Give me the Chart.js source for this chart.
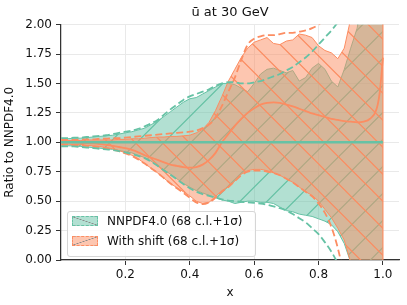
<!DOCTYPE html>
<html>
<head>
<meta charset="utf-8">
<title>ubar at 30 GeV</title>
<script src="https://cdn.jsdelivr.net/npm/chart.js@4.4.1/dist/chart.umd.min.js"></script>
<style>
    html, body { margin: 0; padding: 0; background: #fff; }
    #wrap { position: relative; width: 407px; height: 305px; }
    #chart { position: absolute; left: 0; top: 0; }
    #legend {
        position: absolute; left: 67px; top: 211px; width: 187px; height: 44px;
        border: 1px solid #d6d6d6; border-radius: 3px; background: rgba(255, 255, 255, 0.8);
        font-family: 'DejaVu Sans', sans-serif; font-size: 12px; color: #111;
    }
    .patch { position: absolute; left: 4px; width: 24px; height: 8px; }
    .label { position: absolute; left: 39px; line-height: 14px; white-space: nowrap; }
</style>
</head>
<body>
<div id="wrap">
    <canvas id="chart" width="407" height="305"></canvas>
    <div id="legend">
        <div class="patch" id="patchGreen" style="top: 4px;"></div>
        <div class="label" style="top: 2px;">NNPDF4.0 (68 c.l.+1σ)</div>
        <div class="patch" id="patchOrange" style="top: 24px;"></div>
        <div class="label" style="top: 22px;">With shift (68 c.l.+1σ)</div>
    </div>
</div>
<script>
// x grid shared by every series
const xs = [0.00, 0.02, 0.04, 0.06, 0.08, 0.10, 0.12, 0.14, 0.16, 0.18,
            0.20, 0.22, 0.24, 0.26, 0.28, 0.30, 0.32, 0.34, 0.36, 0.38,
            0.40, 0.42, 0.44, 0.46, 0.48, 0.50, 0.52, 0.54, 0.56, 0.58,
            0.60, 0.62, 0.64, 0.66, 0.68, 0.70, 0.72, 0.74, 0.76, 0.78,
            0.80, 0.82, 0.84, 0.86, 0.88, 0.90, 0.92, 0.94, 0.96, 0.98,
            0.99, 1.00];

// NNPDF4.0: central, 68 c.l. band, 1 sigma band
const nnpdfMid = xs.map(() => 1.0);
const nnpdfUp = [1.03, 1.03, 1.035, 1.035, 1.04, 1.045, 1.05, 1.055, 1.06, 1.07,
                 1.08, 1.09, 1.105, 1.12, 1.15, 1.18, 1.22, 1.26, 1.30, 1.34,
                 1.37, 1.38, 1.41, 1.44, 1.47, 1.50, 1.50, 1.49, 1.46, 1.43,
                 1.50, 1.58, 1.62, 1.63, 1.61, 1.59, 1.61, 1.52, 1.55, 1.63,
                 1.67, 1.62, 1.52, 1.47, 1.62, 1.80, 1.97, 2.3, 2.8, 3.2,
                 3.4, 3.6];
const nnpdfLo = [0.97, 0.97, 0.97, 0.965, 0.96, 0.955, 0.95, 0.945, 0.94, 0.93,
                 0.92, 0.91, 0.89, 0.87, 0.84, 0.80, 0.765, 0.73, 0.69, 0.65,
                 0.62, 0.59, 0.57, 0.55, 0.53, 0.51, 0.50, 0.48, 0.49, 0.50,
                 0.50, 0.49, 0.49, 0.48, 0.45, 0.42, 0.41, 0.39, 0.38, 0.37,
                 0.35, 0.33, 0.30, 0.24, 0.14, -0.02, -0.3, -0.6, -0.9, -1.2,
                 -1.4, -1.6];
const nnpdfSigUp = [1.035, 1.035, 1.04, 1.04, 1.045, 1.05, 1.055, 1.06, 1.07, 1.08,
                    1.09, 1.10, 1.115, 1.135, 1.16, 1.19, 1.235, 1.28, 1.32, 1.36,
                    1.39, 1.41, 1.43, 1.45, 1.48, 1.50, 1.51, 1.51, 1.50, 1.50,
                    1.51, 1.52, 1.54, 1.56, 1.58, 1.61, 1.64, 1.68, 1.72, 1.77,
                    1.83, 1.89, 1.95, 2.02, 2.10, 2.2, 2.35, 2.5, 2.7, 2.95,
                    3.1, 3.3];
const nnpdfSigLo = [0.965, 0.965, 0.965, 0.96, 0.955, 0.95, 0.945, 0.94, 0.935, 0.925,
                    0.915, 0.90, 0.885, 0.865, 0.835, 0.80, 0.76, 0.725, 0.685, 0.645,
                    0.61, 0.58, 0.56, 0.545, 0.53, 0.515, 0.505, 0.50, 0.495, 0.49,
                    0.485, 0.48, 0.47, 0.455, 0.44, 0.42, 0.39, 0.355, 0.32, 0.27,
                    0.22, 0.15, 0.07, -0.03, -0.15, -0.3, -0.5, -0.7, -0.9, -1.1,
                    -1.2, -1.3];

// With shift: central, 68 c.l. band, 1 sigma band
const shiftMid = [1.0, 1.0, 0.998, 0.996, 0.993, 0.99, 0.985, 0.978, 0.97, 0.96,
                  0.95, 0.935, 0.915, 0.89, 0.87, 0.85, 0.83, 0.81, 0.80, 0.79,
                  0.785, 0.79, 0.81, 0.85, 0.91, 1.00, 1.07, 1.14, 1.20, 1.25,
                  1.29, 1.32, 1.335, 1.34, 1.335, 1.32, 1.305, 1.285, 1.265, 1.245,
                  1.23, 1.215, 1.20, 1.19, 1.18, 1.175, 1.17, 1.175, 1.20, 1.28,
                  1.42, 1.72];
const shiftUp = [1.015, 1.015, 1.015, 1.015, 1.02, 1.02, 1.02, 1.02, 1.02, 1.025,
                 1.025, 1.03, 1.03, 1.035, 1.04, 1.045, 1.045, 1.05, 1.05, 1.055,
                 1.06, 1.08, 1.11, 1.17, 1.27, 1.39, 1.52, 1.62, 1.72, 1.80,
                 1.85, 1.87, 1.89, 1.84, 1.83, 1.86, 1.87, 1.92, 1.91, 1.89,
                 1.82, 1.78, 1.76, 1.71, 1.80, 2.05, 2.4, 2.7, 3.0, 3.3,
                 3.5, 3.7];
const shiftLo = [0.985, 0.985, 0.98, 0.98, 0.975, 0.97, 0.965, 0.955, 0.945, 0.93,
                 0.91, 0.89, 0.86, 0.82, 0.78, 0.74, 0.695, 0.65, 0.615, 0.58,
                 0.545, 0.50, 0.48, 0.49, 0.54, 0.59, 0.62, 0.67, 0.73, 0.76,
                 0.77, 0.77, 0.76, 0.74, 0.72, 0.69, 0.66, 0.62, 0.58, 0.55,
                 0.50, 0.43, 0.36, 0.27, 0.17, -0.02, -0.3, -0.6, -0.9, -1.2,
                 -1.4, -1.6];
const shiftSigUp = [1.02, 1.02, 1.02, 1.025, 1.025, 1.025, 1.03, 1.03, 1.035, 1.035,
                    1.04, 1.045, 1.05, 1.055, 1.06, 1.065, 1.07, 1.075, 1.08, 1.085,
                    1.09, 1.10, 1.12, 1.15, 1.21, 1.31, 1.43, 1.55, 1.70, 1.83,
                    1.88, 1.90, 1.91, 1.91, 1.92, 1.93, 1.93, 1.94, 1.95, 1.97,
                    2.00, 2.05, 2.12, 2.2, 2.3, 2.45, 2.6, 2.8, 3.0, 3.3,
                    3.45, 3.6];
const shiftSigLo = [0.98, 0.98, 0.975, 0.975, 0.97, 0.965, 0.96, 0.95, 0.94, 0.925,
                    0.905, 0.885, 0.855, 0.82, 0.78, 0.74, 0.695, 0.65, 0.61, 0.57,
                    0.53, 0.49, 0.475, 0.49, 0.53, 0.58, 0.62, 0.67, 0.72, 0.75,
                    0.76, 0.76, 0.75, 0.74, 0.72, 0.69, 0.66, 0.62, 0.58, 0.54,
                    0.48, 0.40, 0.28, 0.10, -0.15, -0.45, -0.8, -1.1, -1.4, -1.7,
                    -1.85, -2.0];
// closing edge of the shifted band at the last x
const edgeX = [1.0, 1.0];
const edgeY = [-3.0, 4.0];

// axis ticks
const xTicks = [0.2, 0.4, 0.6, 0.8, 1.0];
const yTicks = [0.0, 0.25, 0.5, 0.75, 1.0, 1.25, 1.5, 1.75, 2.0];

const GREEN = '#66c2a5';
const ORANGE = '#fc8d62';
const GREEN_FILL = 'rgba(102, 194, 165, 0.5)';
const ORANGE_FILL = 'rgba(252, 141, 98, 0.5)';
const FONT = "'DejaVu Sans', sans-serif";

// Build a hatched fill: translucent colour plus 45 degree lines
function makeHatch(ctx, fill, line, dir, offset) {
    const s = 27;
    const tile = document.createElement('canvas');
    tile.width = s;
    tile.height = s;
    const g = tile.getContext('2d');
    g.fillStyle = fill;
    g.fillRect(0, 0, s, s);
    g.strokeStyle = line;
    g.lineWidth = 1.2;
    g.beginPath();
    [-1, 0, 1].forEach(k => {
        const o = offset + k * s;
        if (dir === 'back') {
            g.moveTo(o - 2, -2); g.lineTo(o + s + 2, s + 2);
        } else {
            g.moveTo(o + 2, -2); g.lineTo(o - s - 2, s + 2);
        }
    });
    g.stroke();
    return ctx.createPattern(tile, 'repeat');
}

function pts(arr) {
    return xs.map((x, i) => ({ x: x, y: arr[i] }));
}

const canvas = document.getElementById('chart');
const ctx = canvas.getContext('2d');
const greenHatch = makeHatch(ctx, GREEN_FILL, GREEN, 'fwd', 9.3);
const orangeHatch = makeHatch(ctx, ORANGE_FILL, ORANGE, 'back', 19.7);

// legend patches
document.getElementById('patchGreen').style.cssText +=
    `background: linear-gradient(to top right, transparent 46%, #8a8a8a 50%, transparent 54%), ${GREEN_FILL};` +
    `border: 1.5px dashed ${GREEN};`;
document.getElementById('patchOrange').style.cssText +=
    `background: linear-gradient(to bottom right, transparent 46%, #8a8a8a 50%, transparent 54%), ${ORANGE_FILL};` +
    `border: 1.5px dashed ${ORANGE};`;

function line(data, color, width, dash, order) {
    return {
        data: pts(data), borderColor: color, borderWidth: width, borderDash: dash || [],
        pointRadius: 0, fill: false, cubicInterpolationMode: 'monotone', order: order
    };
}

const datasets = [
    // solid and dashed lines on top
    line(nnpdfMid, GREEN, 2.4, null, 0),
    line(shiftMid, ORANGE, 1.8, null, 1),
    line(nnpdfSigUp, GREEN, 1.8, [7, 3.5], 2),
    line(nnpdfSigLo, GREEN, 1.8, [7, 3.5], 3),
    line(shiftSigUp, ORANGE, 1.8, [7, 3.5], 4),
    line(shiftSigLo, ORANGE, 1.8, [7, 3.5], 5),
    {
        data: edgeX.map((x, i) => ({ x: x, y: edgeY[i] })), borderColor: ORANGE, borderWidth: 1.2,
        pointRadius: 0, fill: false, order: 6
    },
    // shifted band
    {
        data: pts(shiftUp), borderColor: ORANGE, borderWidth: 1, pointRadius: 0,
        backgroundColor: orangeHatch, fill: '+1', tension: 0, order: 7
    },
    {
        data: pts(shiftLo), borderColor: ORANGE, borderWidth: 1, pointRadius: 0,
        fill: false, tension: 0, order: 8
    },
    // NNPDF4.0 band
    {
        data: pts(nnpdfUp), borderColor: GREEN, borderWidth: 1, pointRadius: 0,
        backgroundColor: greenHatch, fill: '+1', tension: 0, order: 9
    },
    {
        data: pts(nnpdfLo), borderColor: GREEN, borderWidth: 1, pointRadius: 0,
        fill: false, tension: 0, order: 10
    }
];

const tickFont = { family: FONT, size: 12 };

new Chart(ctx, {
    type: 'line',
    data: { datasets: datasets },
    options: {
        responsive: false,
        animation: false,
        devicePixelRatio: 1,
        layout: { padding: { left: 0, right: 8, top: 0, bottom: 0 } },
        plugins: {
            legend: { display: false },
            tooltip: { enabled: false },
            title: {
                display: true,
                text: 'ū at 30 GeV',
                color: '#111',
                fullSize: false,
                font: { family: FONT, size: 13, weight: 'normal' },
                padding: { top: 5, bottom: 4 }
            }
        },
        scales: {
            x: {
                type: 'linear',
                min: 0,
                max: 1.05,
                afterBuildTicks: axis => { axis.ticks = xTicks.map(v => ({ value: v })); },
                afterFit: axis => { axis.height = 45; },
                grid: { color: '#e9e9e9', tickColor: '#333', tickLength: 5, lineWidth: 1 },
                border: { color: '#333', width: 1.25 },
                ticks: { font: tickFont, color: '#111', padding: 3, maxRotation: 0,
                         callback: v => v.toFixed(1) },
                title: { display: true, text: 'x', font: tickFont, color: '#111', padding: { top: 0, bottom: 5 } }
            },
            y: {
                min: 0,
                max: 2,
                afterBuildTicks: axis => { axis.ticks = yTicks.map(v => ({ value: v })); },
                afterFit: axis => { axis.width = 61; },
                grid: { color: '#e9e9e9', tickColor: '#333', tickLength: 5, lineWidth: 1 },
                border: { color: '#333', width: 1.25 },
                ticks: { font: tickFont, color: '#111', padding: 4,
                         callback: v => v.toFixed(2) },
                title: { display: true, text: 'Ratio to NNPDF4.0', font: tickFont, color: '#111', padding: { top: 3, bottom: 0 } }
            }
        }
    }
});
</script>
</body>
</html>
